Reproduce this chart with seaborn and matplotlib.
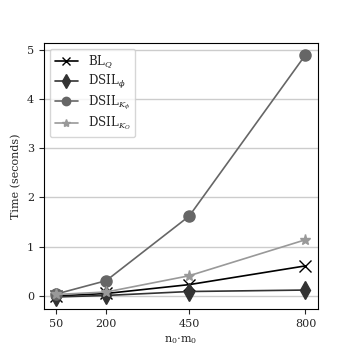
import pandas as pd
import matplotlib
matplotlib.use("Agg")
import matplotlib.pyplot as plt
import seaborn as sns

sns.set_style("ticks")
plt.rcParams["font.family"] = ["DejaVu Serif"]
plt.rcParams["mathtext.fontset"] = "dejavuserif"
plt.rcParams["font.size"] = 8

# data
sizes = [50, 200, 450, 800]
bl_q = [0.0, 0.05, 0.23, 0.61]
dsil_phi = [-0.02, 0.01, 0.09, 0.12]
dsil_kphi = [0.04, 0.31, 1.62, 4.89]
dsil_ko = [0.03, 0.08, 0.41, 1.14]

labels = [r"BL$_Q$", r"DSIL$_\phi$", r"DSIL$_{K_\phi}$", r"DSIL$_{K_O}$"]
series = [bl_q, dsil_phi, dsil_kphi, dsil_ko]
colors = ["#000000", "#333333", "#666666", "#999999"]
markers = ["x", "d", "o", "*"]
msizes = [8, 9, 8, 8]

fig = plt.figure(figsize=(3.54, 3.54), dpi=100)
ax = fig.add_axes([0.124, 0.127, 0.774, 0.752])

for lab, vals, c, m, ms in zip(labels, series, colors, markers, msizes):
    df = pd.DataFrame({"x": sizes, "y": vals})
    sns.lineplot(data=df, x="x", y="y", ax=ax, color=c, marker=m,
                 markersize=ms, linewidth=1.2, label=lab,
                 markeredgecolor=c, mew=1.0)

ax.set_xticks(sizes)
ax.set_yticks([0, 1, 2, 3, 4, 5])
ax.set_xlabel(r"n$_0$$\cdot$m$_0$")
ax.set_ylabel("Time (seconds)")
ax.yaxis.grid(True, color="#cccccc", linewidth=1.0)
ax.xaxis.grid(False)
for s in ax.spines.values():
    s.set_visible(True)
    s.set_color("black")
    s.set_linewidth(0.8)

ax.legend(loc="upper left", fontsize=8.5, handlelength=2.0, markerscale=0.75,
          labelspacing=0.25, borderpad=0.4, frameon=True)

fig.savefig("out.png", dpi=100)
